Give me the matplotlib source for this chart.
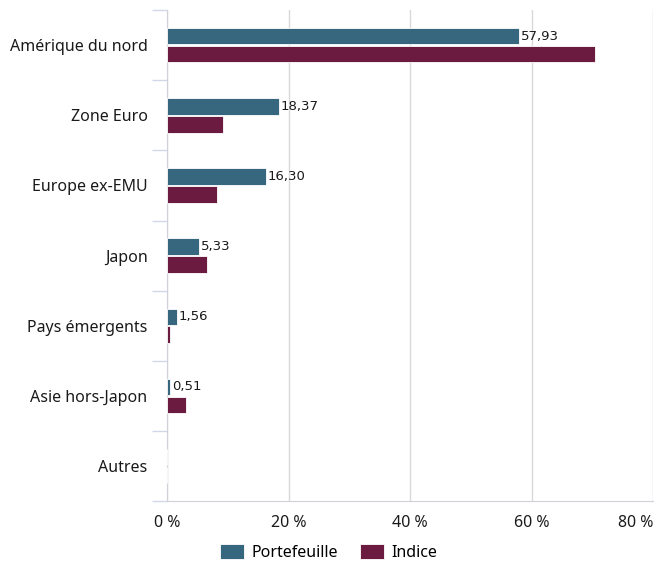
import matplotlib
matplotlib.use("Agg")
from matplotlib import pyplot as plt
from matplotlib.ticker import FuncFormatter
import numpy as np

categories = ["Amérique du nord", "Zone Euro", "Europe ex-EMU", "Japon",
              "Pays émergents", "Asie hors-Japon", "Autres"]
portefeuille = [57.93, 18.37, 16.30, 5.33, 1.56, 0.51, 0.0]
indice = [70.5, 9.2, 8.3, 6.6, 0.5, 3.1, 0.0]
port_labels = ["57,93", "18,37", "16,30", "5,33", "1,56", "0,51", ""]

col_port = "#37677f"
col_ind = "#6b1a40"

plt.rcParams['font.family'] = ['Noto Sans', 'DejaVu Sans']

fig = plt.figure(figsize=(6.55, 5.63), dpi=100)
ax = fig.add_axes([0.255, 0.110, 0.742, 0.872])

y = np.arange(len(categories))
h = 0.235
ax.barh(y - 0.128, portefeuille, height=h, color=col_port, edgecolor="white",
        linewidth=0.6, label="Portefeuille", zorder=3)
ax.barh(y + 0.128, indice, height=h, color=col_ind, edgecolor="white",
        linewidth=0.6, label="Indice", zorder=3)

for yi, v, txt in zip(y, portefeuille, port_labels):
    if txt:
        ax.text(v + 0.3, yi - 0.128, txt, va="center", ha="left", fontsize=9.5,
                family="DejaVu Sans", color="#1a1a1a", zorder=4)

ax.set_xlim(0, 80)
ax.set_ylim(len(categories) - 0.5, -0.5)
ax.set_xticks([0, 20, 40, 60, 80])
ax.xaxis.set_major_formatter(FuncFormatter(lambda v, p: "%d %%" % v))
ax.set_yticks(y)
ax.set_yticklabels(categories)
ax.set_yticks(np.arange(len(categories) + 1) - 0.5, minor=True)

ax.grid(axis="x", color="#d9d9d9", linewidth=1, zorder=0)
for s in ["top", "right"]:
    ax.spines[s].set_visible(False)
ax.spines["left"].set_color("#d0d0d8")
ax.spines["bottom"].set_color("#d0d0d8")
ax.tick_params(axis="y", which="major", length=0, pad=14, labelsize=11.5, labelcolor="#1a1a1a")
ax.tick_params(axis="y", which="minor", length=11, color="#d0d8e8", width=1)
ax.tick_params(axis="x", length=0, pad=10, labelsize=11.5, labelcolor="#1a1a1a")

# last x label sits inside the figure edge
xlabels = ax.get_xticklabels()
fig.canvas.draw()
xlabels = ax.get_xticklabels()
xlabels[-1].set_horizontalalignment("right")

ax.legend(loc="center", bbox_to_anchor=(0.333, -0.104), ncol=2, frameon=False,
          fontsize=11.5, handlelength=1.5, handleheight=1.1, columnspacing=1.4,
          handletextpad=0.45)

fig.savefig("out.png", dpi=100)
